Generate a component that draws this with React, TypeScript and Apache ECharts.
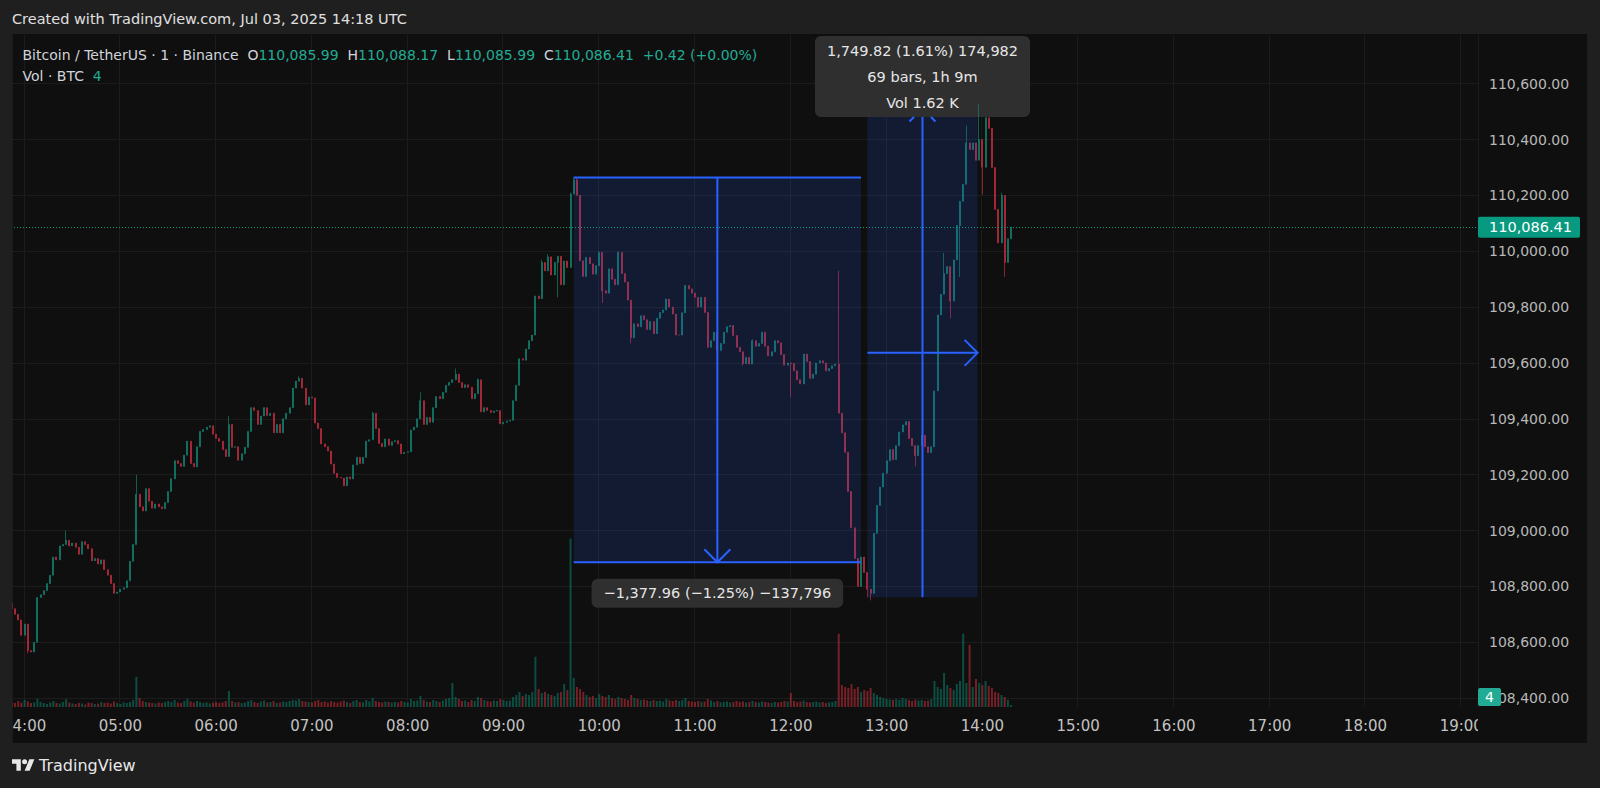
import React, { useEffect, useRef } from "react";
import * as echarts from "echarts";

// ---------------- data ----------------
const firstBarTime = "03:52";
const barMinutes = 2;
const axisEndTime = "19:10";
const firstOpen = 108740;

// closes of the 2-minute bars, 03:52 ... 14:18
const closes = [
  108720, 108700, 108680, 108625, 108665, 108570, 108565, 108600, 108760, 108770,
  108785, 108810, 108840, 108905, 108895, 108945, 108950, 108965, 108945, 108955,
  108940, 108915, 108960, 108950, 108935, 108892, 108900, 108880, 108895, 108860,
  108840, 108810, 108775, 108780, 108790, 108795, 108820, 108890, 108950, 109130,
  109085, 109070, 109150, 109105, 109080, 109095, 109085, 109078, 109100, 109140,
  109185, 109250, 109240, 109230, 109270, 109320, 109240, 109228, 109300, 109355,
  109362, 109370, 109375, 109345, 109330, 109320, 109290, 109265, 109380, 109298,
  109300, 109252, 109275, 109298, 109355, 109440, 109430, 109380, 109410, 109440,
  109412, 109420, 109350, 109380, 109350, 109400, 109420, 109440, 109510, 109535,
  109545, 109510, 109450, 109478, 109475, 109385, 109365, 109310, 109300, 109285,
  109238, 109205, 109190, 109188, 109160, 109192, 109185, 109235, 109262, 109240,
  109262, 109320, 109325, 109420, 109365, 109312, 109300, 109328, 109305, 109318,
  109322, 109310, 109275, 109280, 109282, 109360, 109370, 109400, 109465, 109380,
  109405, 109388, 109440, 109480, 109472, 109495, 109520, 109530, 109540, 109560,
  109530, 109512, 109522, 109513, 109472, 109490, 109540, 109425, 109440, 109430,
  109423, 109428, 109430, 109382, 109388, 109392, 109395, 109465, 109520, 109615,
  109610, 109650, 109680, 109700, 109840, 109830, 109960, 109930, 109980, 109915,
  109960, 109982, 109880, 109965, 109942, 110205, 110255, 110200, 109966, 109910,
  109978, 109955, 109918, 109948, 109996, 109859, 109850, 109937, 109900, 109880,
  109996, 109920, 109890, 109825, 109690, 109740, 109730, 109769, 109755, 109720,
  109748, 109705, 109760, 109781, 109790, 109829, 109800, 109775, 109700, 109700,
  109780, 109877, 109865, 109850, 109835, 109800, 109835, 109781, 109656, 109680,
  109710, 109645, 109670, 109710, 109730, 109734, 109698, 109656, 109640, 109598,
  109620, 109596, 109680, 109660, 109670, 109710, 109660, 109625, 109640, 109680,
  109672, 109630, 109592, 109600, 109598, 109572, 109540, 109525, 109632, 109605,
  109545, 109560, 109600, 109608, 109600, 109572, 109580, 109590, 109596, 109420,
  109350, 109280, 109140, 109010, 108900, 108800, 108905, 108850, 108790, 108775,
  108990, 109090, 109156, 109205, 109250, 109290, 109254, 109304, 109353, 109378,
  109390, 109330, 109304, 109268, 109304, 109341, 109300, 109279, 109300, 109500,
  109772, 109846, 109920, 109945, 109822, 109969, 110092, 110179, 110240, 110388,
  110364, 110388, 110326, 110400, 110301, 110478, 110440, 110300, 110150, 110030,
  110200, 109960, 110045, 110086.41,
];

// volume (BTC) of the same bars
const volumes = [
  10, 8, 12, 9, 14, 11, 8, 9, 16, 10,
  8, 6, 9, 12, 8, 7, 10, 16, 9, 7,
  6, 8, 7, 5, 9, 8, 6, 7, 10, 8,
  9, 7, 11, 8, 6, 9, 8, 10, 14, 60,
  18, 12, 10, 9, 8, 7, 9, 8, 10, 12,
  10, 14, 9, 8, 12, 16, 11, 9, 12, 10,
  8, 9, 7, 9, 10, 8, 9, 12, 32, 12,
  9, 10, 8, 9, 12, 14, 10, 8, 11, 13,
  9, 10, 12, 8, 9, 11, 10, 12, 14, 13,
  16, 12, 11, 10, 9, 12, 14, 10, 11, 9,
  12, 10, 9, 11, 13, 10, 8, 12, 14, 10,
  9, 14, 11, 18, 12, 10, 9, 11, 10, 9,
  10, 9, 12, 10, 9, 16, 12, 13, 22, 14,
  11, 10, 14, 12, 10, 13, 16, 18, 48, 20,
  16, 12, 13, 10, 14, 12, 20, 18, 14, 12,
  11, 13, 12, 16, 14, 12, 13, 20, 24, 30,
  22, 26, 24, 30, 100, 36, 28, 30, 26, 24,
  22, 28, 30, 46, 34, 336, 58, 40, 36, 30,
  24, 20, 22, 18, 26, 22, 20, 24, 18, 16,
  20, 18, 16, 14, 24, 18, 16, 14, 15, 13,
  12, 14, 12, 13, 11, 16, 13, 12, 14, 12,
  14, 18, 12, 11, 10, 12, 10, 11, 16, 13,
  10, 12, 9, 10, 11, 9, 10, 12, 10, 11,
  9, 10, 12, 10, 9, 11, 10, 9, 8, 10,
  9, 10, 12, 11, 28, 12, 10, 11, 13, 10,
  9, 10, 11, 9, 10, 8, 9, 10, 12, 146,
  44, 40, 38, 46, 36, 40, 30, 34, 32, 38,
  28, 24, 20, 18, 16, 15, 14, 16, 14, 18,
  16, 14, 12, 15, 13, 14, 12, 13, 16, 52,
  40, 36, 68, 44, 38, 34, 46, 52, 146, 48,
  124, 40, 56, 48, 44, 52, 42, 38, 30, 28,
  24, 20, 14, 4,
];

// notable wicks [bar time, price]
const wickHighs: [string, number][] = [
  ["04:26", 109000], ["05:10", 109200], ["06:08", 109410], ["06:52", 109552],
  ["07:38", 109425], ["08:08", 109495], ["08:30", 109580], ["08:44", 109545],
  ["09:24", 109970], ["09:28", 109990], ["09:42", 110210], ["09:44", 110264.5],
  ["09:46", 110262], ["10:00", 110000], ["10:12", 110000], ["10:54", 109880],
  ["11:36", 109685], ["12:30", 109930], ["13:36", 109994], ["13:50", 110450],
  ["13:58", 110527], ["14:02", 110480], ["14:12", 110210],
];
const wickLows: [string, number][] = [
  ["04:02", 108560], ["09:34", 109835], ["10:02", 109815], ["10:20", 109670],
  ["11:30", 109590], ["12:00", 109477], ["12:48", 108761.3], ["12:50", 108750],
  ["13:18", 109230], ["13:40", 109760], ["13:46", 109908], ["14:00", 110203],
  ["14:14", 109908],
];

const priceMin = 108400;
const priceMax = 110600;
const priceStep = 200;
const lastPrice = 110086.41;
const lastVolume = 4;
const volumeAxisMax = 1340;

const legendTitle = "Bitcoin / TetherUS · 1 · Binance";
const legendLetters = ["O", "H", "L", "C"];
const legendValues = ["110,085.99", "110,088.17", "110,085.99", "110,086.41"];
const legendChange = "+0.42 (+0.00%)";

// measuring tools: start/end bar, from/to price
const toolStarts = ["09:44", "12:48"];
const toolEnds = ["12:44", "13:57"];
const toolFrom = [110264.5, 108761.3];
const toolTo = [108886.54, 110511.12];
const toolModes = ["price", "dateprice"];
const toolLabels = [
  ["−1,377.96 (−1.25%) −137,796"],
  ["1,749.82 (1.61%) 174,982", "69 bars, 1h 9m", "Vol 1.62 K"],
];

// ---------------- styling ----------------
const PAGE_BG = "#1f1f1f";
const PANEL_BG = "#0f0f0f";
const GRID_LINE = "#1c1c1c";
const UP = "#13806e";
const DOWN = "#bd2c3d";
const VOL_UP = "rgba(8,153,129,0.45)";
const VOL_DOWN = "rgba(242,54,69,0.45)";
const BLUE = "#2962ff";
const TOOL_FILL = "rgba(41,98,255,0.15)";
const TEAL = "#089981";
const FONT = '"DejaVu Sans", sans-serif';
const AXIS_TEXT = "#b8b8b8";

const GRID_LEFT = 11;
const PANEL_LEFT = 12.5;
const GRID_RIGHT = 122;
const PANE_TOP = 35;
const PANE_BOTTOM = 707;
const PRICE_TOP = 83.7;
const PRICE_BOTTOM = 698.1;

const TV_LOGO =
  "M14 22H7V11H0V4h14v18zM28 22h-8l7.5-18h8L28 22zM24 8a4 4 0 1 1-8 0a4 4 0 1 1 8 0z";
echarts.graphic.registerShape("tvlogo", echarts.graphic.extendPath(TV_LOGO, {}));

// ---------------- derived structures ----------------
const toMin = (t: string) => {
  const [h, m] = t.split(":").map(Number);
  return h * 60 + m;
};
const fmtTime = (m: number) =>
  `${String(Math.floor(m / 60)).padStart(2, "0")}:${String(m % 60).padStart(2, "0")}`;
const fmtPrice = (v: number) =>
  v.toLocaleString("en-US", { minimumFractionDigits: 2, maximumFractionDigits: 2 });

const categories: string[] = [];
for (let m = toMin(firstBarTime); m <= toMin(axisEndTime); m++) categories.push(fmtTime(m));

const highMap = new Map(wickHighs);
const lowMap = new Map(wickLows);
const candleData: any[] = categories.map(() => "-");
const volumeData: any[] = categories.map(() => "-");
closes.forEach((c, i) => {
  const idx = i * barMinutes;
  const t = categories[idx];
  const o = i === 0 ? firstOpen : closes[i - 1];
  const hi = Math.max(o, c, highMap.has(t) ? (highMap.get(t) as number) : -Infinity);
  const lo = Math.min(o, c, lowMap.has(t) ? (lowMap.get(t) as number) : Infinity);
  candleData[idx] = [o, c, lo, hi];
  volumeData[idx] = { value: volumes[i], itemStyle: { color: c >= o ? VOL_UP : VOL_DOWN } };
});

const toolData = toolStarts.map((s, k) => [
  categories.indexOf(s),
  toolFrom[k],
  categories.indexOf(toolEnds[k]),
  toolTo[k],
  k,
]);

const isHour = (_i: number, v: string) => v.endsWith(":00");

const ARM = 13;
const LABEL_LINE = 26;
const LABEL_PAD_V = 1.5;
const LABEL_GAP = 16.6;

function toolGeometry(api: any) {
  const k = api.value(4);
  const a = api.coord([api.value(0), api.value(1)]);
  const b = api.coord([api.value(2), api.value(3)]);
  const x1 = Math.min(a[0], b[0]);
  const x2 = Math.max(a[0], b[0]);
  const yTop = Math.min(a[1], b[1]);
  const yBot = Math.max(a[1], b[1]);
  const up = b[1] < a[1];
  const lines = toolLabels[k];
  const h = lines.length * LABEL_LINE + LABEL_PAD_V * 2;
  let top = up ? yTop - LABEL_GAP - h : yBot + LABEL_GAP;
  top = Math.max(top, PANE_TOP + 1);
  return { k, x1, x2, xm: (x1 + x2) / 2, yTop, yBot, up, labelTop: top, labelBottom: top + h, lines };
}

function renderToolLines(_params: any, api: any) {
  const g = toolGeometry(api);
  const stroke = { stroke: BLUE, lineWidth: 2, fill: null };
  const clipTop = g.up ? Math.max(g.yTop, g.labelBottom) : g.yTop;
  const children: any[] = [
    {
      type: "rect",
      shape: { x: g.x1, y: clipTop, width: g.x2 - g.x1, height: g.yBot - clipTop },
      style: { fill: TOOL_FILL },
    },
    { type: "line", shape: { x1: g.xm, y1: clipTop, x2: g.xm, y2: g.yBot }, style: stroke },
  ];
  if (g.up) {
    const cut = clipTop - g.yTop;
    if (cut < ARM) {
      children.push({ type: "line", shape: { x1: g.xm - cut, y1: clipTop, x2: g.xm - ARM, y2: g.yTop + ARM }, style: stroke });
      children.push({ type: "line", shape: { x1: g.xm + cut, y1: clipTop, x2: g.xm + ARM, y2: g.yTop + ARM }, style: stroke });
    }
  } else {
    children.push({
      type: "polyline",
      shape: { points: [[g.xm - ARM, g.yBot - ARM], [g.xm, g.yBot], [g.xm + ARM, g.yBot - ARM]] },
      style: stroke,
    });
  }
  if (toolModes[g.k] === "price") {
    children.push({ type: "line", shape: { x1: g.x1, y1: g.yTop, x2: g.x2, y2: g.yTop }, style: stroke });
    children.push({ type: "line", shape: { x1: g.x1, y1: g.yBot, x2: g.x2, y2: g.yBot }, style: stroke });
  } else {
    const ym = (g.yTop + g.yBot) / 2;
    children.push({ type: "line", shape: { x1: g.x1, y1: ym, x2: g.x2, y2: ym }, style: stroke });
    children.push({
      type: "polyline",
      shape: { points: [[g.x2 - ARM, ym - ARM], [g.x2, ym], [g.x2 - ARM, ym + ARM]] },
      style: stroke,
    });
  }
  return { type: "group", children };
}

function renderToolLabels(_params: any, api: any) {
  const g = toolGeometry(api);
  return {
    type: "text",
    x: g.xm,
    y: g.labelTop,
    style: {
      text: g.lines.join("\n"),
      align: "center",
      verticalAlign: "top",
      fill: "#e6e6e6",
      fontFamily: FONT,
      fontSize: 14.5,
      lineHeight: LABEL_LINE,
      backgroundColor: "#2f2f2f",
      padding: [LABEL_PAD_V, 12],
      borderRadius: 6,
    },
  };
}

const legendLine1 =
  `{t|${legendTitle}}  ` +
  legendLetters.map((l, i) => `{l|${l}}{v|${legendValues[i]}}`).join("  ") +
  `  {v|${legendChange}}`;
const legendLine2 = `{t|Vol · BTC}  {v|${lastVolume}}`;
const legendRich = {
  t: { fill: "#d1d4dc", fontFamily: FONT, fontSize: 14 },
  l: { fill: "#d1d4dc", fontFamily: FONT, fontSize: 14 },
  v: { fill: "#22ab94", fontFamily: FONT, fontSize: 14 },
};

const option: any = {
  animation: false,
  backgroundColor: PAGE_BG,
  grid: [
    { left: GRID_LEFT, right: GRID_RIGHT, top: PRICE_TOP, bottom: 788 - PRICE_BOTTOM },
    { left: GRID_LEFT, right: GRID_RIGHT, top: PANE_TOP, bottom: 788 - PANE_BOTTOM },
  ],
  xAxis: [
    { type: "category", gridIndex: 0, data: categories, boundaryGap: true, show: false },
    {
      type: "category",
      gridIndex: 1,
      data: categories,
      boundaryGap: true,
      axisLine: { show: false },
      axisTick: { show: false, alignWithLabel: true },
      axisLabel: { interval: isHour, color: "#c2c2c2", fontFamily: FONT, fontSize: 15, margin: 11 },
      splitLine: { show: true, interval: isHour, lineStyle: { color: GRID_LINE, width: 1 } },
    },
  ],
  yAxis: [
    {
      type: "value",
      gridIndex: 0,
      position: "right",
      min: priceMin,
      max: priceMax,
      interval: priceStep,
      axisLine: { show: false },
      axisTick: { show: false },
      axisLabel: { formatter: (v: number) => fmtPrice(v), color: AXIS_TEXT, fontFamily: FONT, fontSize: 14, margin: 11 },
      splitLine: { show: true, lineStyle: { color: GRID_LINE, width: 1 } },
    },
    { type: "value", gridIndex: 1, min: 0, max: volumeAxisMax, show: false },
  ],
  series: [
    {
      name: "Vol",
      type: "bar",
      xAxisIndex: 1,
      yAxisIndex: 1,
      data: volumeData,
      barWidth: 2,
      large: false,
      z: 1,
    },
    {
      name: "Tool labels",
      type: "custom",
      xAxisIndex: 0,
      yAxisIndex: 0,
      data: toolData,
      encode: { x: [0, 2], y: [1, 3] },
      renderItem: renderToolLabels,
      z: 2,
      silent: true,
    },
    {
      name: "BTCUSDT",
      type: "candlestick",
      xAxisIndex: 0,
      yAxisIndex: 0,
      data: candleData,
      barWidth: 1.5,
      large: false,
      z: 3,
      itemStyle: { color: UP, color0: DOWN, borderColor: UP, borderColor0: DOWN, borderWidth: 0.7 },
      markLine: {
        silent: true,
        symbol: "none",
        animation: false,
        data: [{ yAxis: lastPrice }],
        lineStyle: { color: TEAL, type: [1, 2], width: 1 },
        label: {
          show: true,
          position: "end",
          distance: 0,
          formatter: () => fmtPrice(lastPrice),
          color: "#ffffff",
          fontFamily: FONT,
          fontSize: 14.5,
          backgroundColor: TEAL,
          padding: [3, 8, 3, 11],
          borderRadius: 2,
        },
      },
    },
    {
      name: "Tools",
      type: "custom",
      xAxisIndex: 0,
      yAxisIndex: 0,
      data: toolData,
      encode: { x: [0, 2], y: [1, 3] },
      renderItem: renderToolLines,
      z: 4,
      silent: true,
    },
  ],
  graphic: [
    { type: "rect", z: -10, silent: true, shape: { x: PANEL_LEFT, y: 34, width: 1587 - PANEL_LEFT, height: 743 - 34 }, style: { fill: PANEL_BG } },
    { type: "rect", z: 100, silent: true, shape: { x: 0, y: 34, width: PANEL_LEFT, height: 712 }, style: { fill: PAGE_BG } },
    { type: "rect", z: 100, silent: true, shape: { x: 1600 - GRID_RIGHT, y: PANE_BOTTOM, width: 1587 - (1600 - GRID_RIGHT), height: 743 - PANE_BOTTOM }, style: { fill: PANEL_BG } },
    {
      type: "text", z: 100, silent: true, x: 12, y: 18.5,
      style: { text: "Created with TradingView.com, Jul 03, 2025 14:18 UTC", fill: "#e0e0e0", fontFamily: FONT, fontSize: 14.5, verticalAlign: "middle" },
    },
    { type: "text", z: 100, silent: true, x: 22.5, y: 55, style: { text: legendLine1, rich: legendRich, fontFamily: FONT, fontSize: 14, verticalAlign: "middle" } },
    { type: "text", z: 100, silent: true, x: 22.5, y: 75.5, style: { text: legendLine2, rich: legendRich, fontFamily: FONT, fontSize: 14, verticalAlign: "middle" } },
    { type: "rect", z: 101, silent: true, shape: { x: 1478, y: 688, width: 23, height: 18, r: 2 }, style: { fill: "#22ab94" } },
    {
      type: "text", z: 102, silent: true, x: 1489.5, y: 697,
      style: { text: String(lastVolume), fill: "#ffffff", fontFamily: FONT, fontSize: 14, align: "center", verticalAlign: "middle" },
    },
    { type: "tvlogo", z: 100, silent: true, x: 12, y: 756.8, scaleX: 0.63, scaleY: 0.63, style: { fill: "#e8e8e8" } },
    {
      type: "text", z: 100, silent: true, x: 39, y: 765,
      style: { text: "TradingView", fill: "#e8e8e8", fontFamily: FONT, fontSize: 16, verticalAlign: "middle" },
    },
  ],
};

export default function App() {
  const ref = useRef<HTMLDivElement>(null);
  useEffect(() => {
    const chart = echarts.init(ref.current as HTMLDivElement, null, { renderer: "svg" });
    chart.setOption(option);
    return () => chart.dispose();
  }, []);
  return (
    <div
      ref={ref}
      style={{ position: "fixed", left: 0, top: 0, width: 1600, height: 788 }}
    />
  );
}
